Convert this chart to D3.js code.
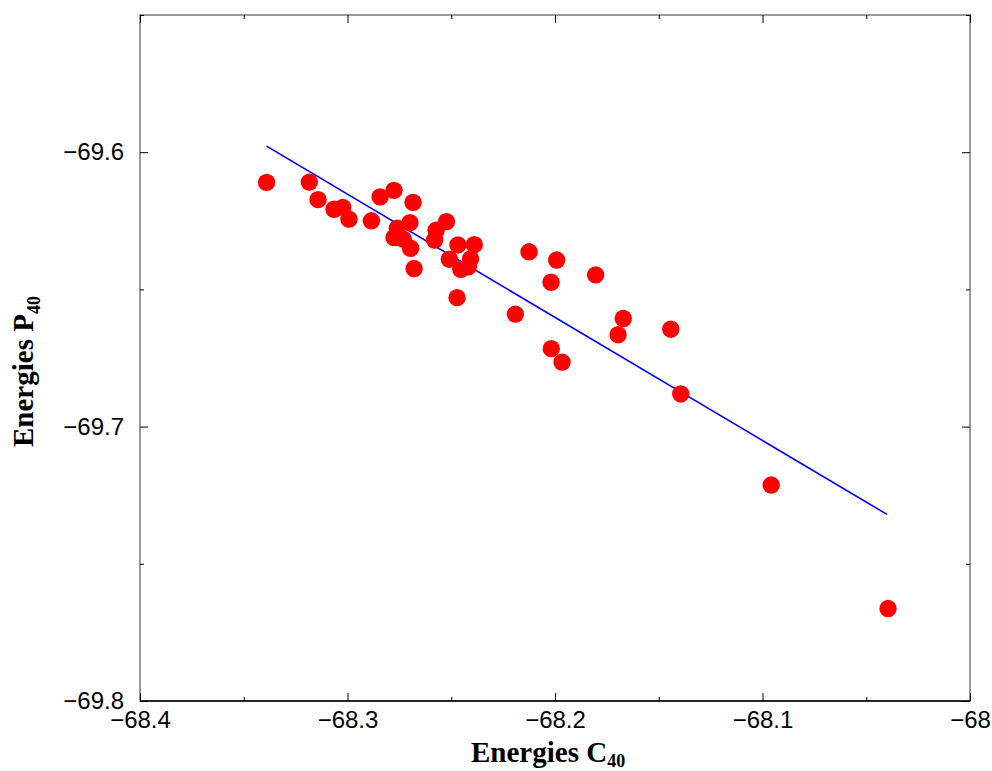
<!DOCTYPE html>
<head>
  <meta charset="utf-8">
  <script src="https://d3js.org/d3.v7.min.js"></script>
  <style>
    body { margin: 0; background: #fff; }
    svg { display: block; }
  </style>
</head>
<body>
  <svg width="992" height="771"></svg>
  <script>
    // energies
    var energiesC = [-68.339, -68.3184, -68.3142, -68.3065, -68.3023, -68.2993, -68.2843, -68.2776,
      -68.2885, -68.2684, -68.2699, -68.2760, -68.2776, -68.2731, -68.2696, -68.2679,
      -68.2573, -68.2580, -68.2523, -68.2468, -68.2389, -68.2509, -68.2407, -68.2454,
      -68.2418, -68.2472, -68.2125, -68.1992, -68.2019, -68.1804, -68.2191, -68.1671,
      -68.1696, -68.1442, -68.2018, -68.1966, -68.1394, -68.0958, -68.0395];
    var energiesP = [-69.6110, -69.6109, -69.6173, -69.6208, -69.6201, -69.6244, -69.6163, -69.6139,
      -69.6250, -69.6183, -69.6257, -69.6277, -69.6311, -69.6317, -69.6350, -69.6424,
      -69.6284, -69.6320, -69.6253, -69.6338, -69.6337, -69.6390, -69.6389, -69.6427,
      -69.6418, -69.6530, -69.6363, -69.6393, -69.6474, -69.6447, -69.6590, -69.6606,
      -69.6665, -69.6645, -69.6716, -69.6765, -69.6881, -69.7213, -69.7663];

    // fitted line end points
    var fitC = [-68.339, -68.04];
    var fitP = [-69.5978, -69.7320];

    var xTicks = [-68.4, -68.3, -68.2, -68.1, -68];
    var xMinor = [-68.35, -68.25, -68.15, -68.05];
    var yTicks = [-69.8, -69.7, -69.6];
    var yMinor = [-69.75, -69.65, -69.55];

    var margin = { left: 140, right: 970, top: 15, bottom: 701 };

    var svg = d3.select('svg');

    var x = d3.scaleLinear().domain([-68.4, -68]).range([margin.left, margin.right]);
    var y = d3.scaleLinear().domain([-69.8, -69.55]).range([margin.bottom, margin.top]);

    var fmt = d3.format('');

    // frame
    svg.append('rect')
      .attr('x', margin.left).attr('y', margin.top)
      .attr('width', margin.right - margin.left).attr('height', margin.bottom - margin.top)
      .attr('fill', 'none').attr('stroke', '#7a7a7a').attr('stroke-width', 1.5);
    svg.append('line')
      .attr('x1', margin.left).attr('x2', margin.right)
      .attr('y1', margin.bottom).attr('y2', margin.bottom)
      .attr('stroke', '#000').attr('stroke-width', 1.5);

    function styleAxis(g) {
      g.select('.domain').remove();
      g.selectAll('line').attr('stroke', '#000').attr('stroke-width', 1);
    }

    // bottom axis with labels
    var gx = svg.append('g')
      .attr('transform', 'translate(0,' + margin.bottom + ')')
      .call(d3.axisBottom(x).tickValues(xTicks).tickSize(-8).tickPadding(10).tickFormat(fmt))
      .call(styleAxis);
    gx.selectAll('text')
      .attr('font-family', 'Liberation Sans, Arial, sans-serif')
      .attr('font-size', 24).attr('fill', '#000');
    svg.append('g')
      .attr('transform', 'translate(0,' + margin.bottom + ')')
      .call(d3.axisBottom(x).tickValues(xMinor).tickSize(-4).tickFormat(''))
      .call(styleAxis);

    // top ticks
    svg.append('g')
      .attr('transform', 'translate(0,' + margin.top + ')')
      .call(d3.axisTop(x).tickValues(xTicks).tickSize(-8).tickFormat(''))
      .call(styleAxis);
    svg.append('g')
      .attr('transform', 'translate(0,' + margin.top + ')')
      .call(d3.axisTop(x).tickValues(xMinor).tickSize(-4).tickFormat(''))
      .call(styleAxis);

    // left axis with labels
    var gy = svg.append('g')
      .attr('transform', 'translate(' + margin.left + ',0)')
      .call(d3.axisLeft(y).tickValues(yTicks).tickSize(-8).tickPadding(16).tickFormat(fmt))
      .call(styleAxis);
    gy.selectAll('text')
      .attr('font-family', 'Liberation Sans, Arial, sans-serif')
      .attr('font-size', 24).attr('fill', '#000');
    svg.append('g')
      .attr('transform', 'translate(' + margin.left + ',0)')
      .call(d3.axisLeft(y).tickValues(yMinor).tickSize(-4).tickFormat(''))
      .call(styleAxis);

    // right ticks
    svg.append('g')
      .attr('transform', 'translate(' + margin.right + ',0)')
      .call(d3.axisRight(y).tickValues(yTicks).tickSize(-8).tickFormat(''))
      .call(styleAxis);
    svg.append('g')
      .attr('transform', 'translate(' + margin.right + ',0)')
      .call(d3.axisRight(y).tickValues(yMinor).tickSize(-4).tickFormat(''))
      .call(styleAxis);

    // fit line
    svg.append('path')
      .datum(d3.zip(fitC, fitP))
      .attr('d', d3.line().x(d => x(d[0])).y(d => y(d[1])))
      .attr('fill', 'none')
      .attr('stroke', '#0000ff')
      .attr('stroke-width', 1.6);

    // points
    svg.append('g').selectAll('circle')
      .data(d3.zip(energiesC, energiesP))
      .enter().append('circle')
      .attr('cx', d => x(d[0]))
      .attr('cy', d => y(d[1]))
      .attr('r', 8.7)
      .attr('fill', '#ff0000');

    // axis titles
    var xt = svg.append('text')
      .attr('x', 471).attr('y', 762)
      .attr('font-family', 'Liberation Serif, Times New Roman, serif')
      .attr('font-weight', 'bold').attr('font-size', 29).attr('fill', '#000');
    xt.append('tspan').text('Energies C');
    xt.append('tspan').attr('font-size', 18).attr('dy', 5).text('40');

    var yt = svg.append('text')
      .attr('transform', 'translate(33,447) rotate(-90)')
      .attr('font-family', 'Liberation Serif, Times New Roman, serif')
      .attr('font-weight', 'bold').attr('font-size', 29).attr('fill', '#000');
    yt.append('tspan').text('Energies P');
    yt.append('tspan').attr('font-size', 18).attr('dy', 7).text('40');
  </script>
</body>
